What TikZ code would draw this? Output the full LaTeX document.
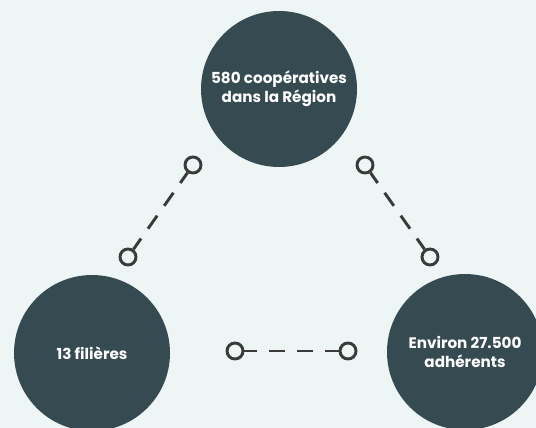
\documentclass[tikz,border=0pt]{standalone}
\usepackage{fontspec}
\setmainfont{Poppins}
\definecolor{bgcol}{HTML}{EDF5F5}
\definecolor{disc}{HTML}{364A52}
\definecolor{ring}{HTML}{3A3A3A}

\begin{document}
\begin{tikzpicture}[x=0.75pt,y=-0.75pt,
  bignode/.style={circle, fill=disc, minimum size=117pt, inner sep=0pt,
    text=white, align=center, font=\fontsize{11.4}{14.25}\selectfont\bfseries},
  dot/.style={circle, draw=ring, line width=2.2pt, minimum size=12pt, inner sep=0pt},
  link/.style={draw=ring, line width=2.2pt, dash pattern=on 12pt off 9pt, dash phase=2.6pt}]
\useasboundingbox (0,0) rectangle (536,428);
\clip (0,0) rectangle (536,428);
\fill[bgcol] (0,0) rectangle (536,428);

\node[bignode] (coop) at (279,89) {580 coopératives\\dans la Région};
\node[bignode] (fil) at (92,353) {13 filières};
\node[bignode] (adh) at (465,352) {Environ 27.500\\adhérents};

%\node[dot] (c1) at (279,200) {};
\node[dot] (tl) at (193,165) {};
\node[dot] (bl) at (128,257) {};
\node[dot] (tr) at (365,165) {};
\node[dot] (br) at (430,257) {};
\node[dot] (ml) at (235,351) {};
\node[dot] (mr) at (348,351) {};

\draw[link] (tl) -- (bl);
\draw[link] (tr) -- (br);
\draw[link] (ml) -- (mr);

\end{tikzpicture}
\end{document}
